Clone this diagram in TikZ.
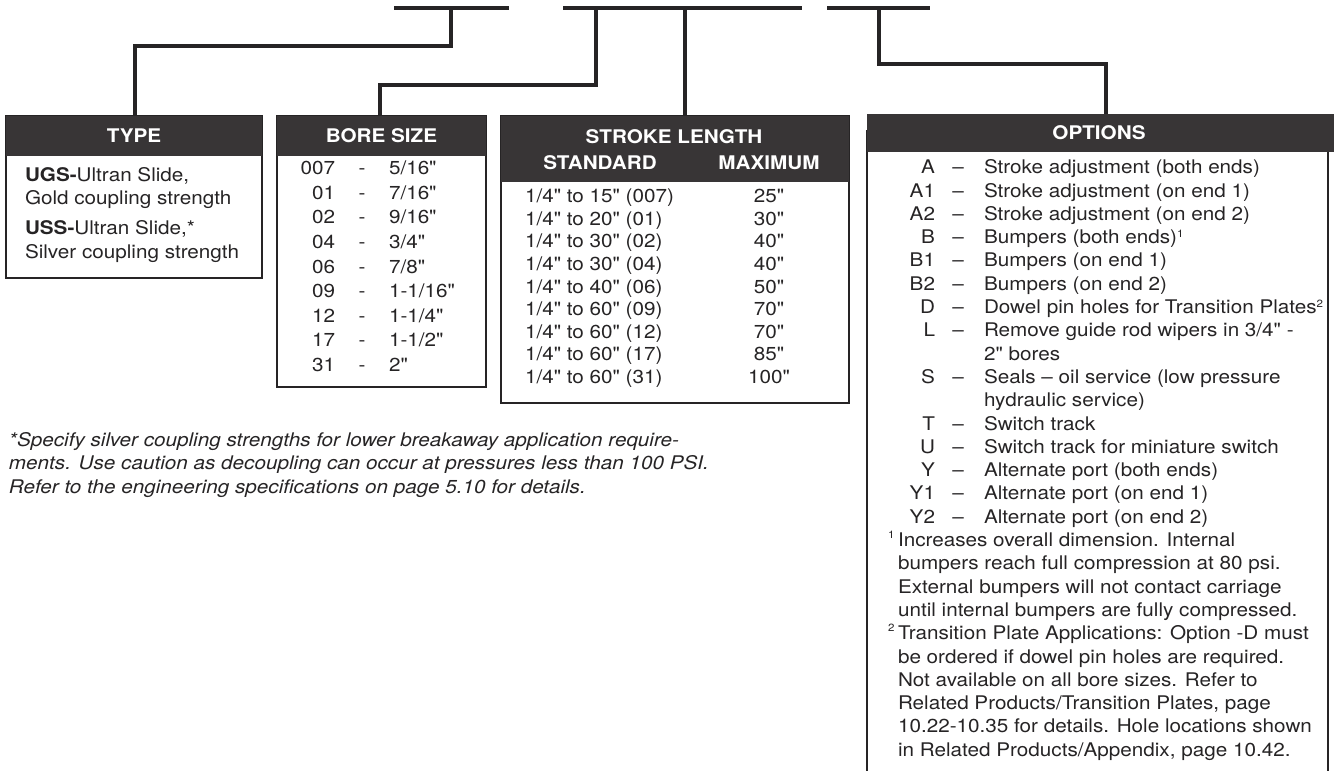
\documentclass[tikz,border=0pt]{standalone}
\usepackage{fontspec}
\setmainfont{TeX Gyre Heros}[FakeStretch=1.10, Ligatures=TeXOff]
\definecolor{ink}{RGB}{38,36,37}
\definecolor{hdrgray}{RGB}{56,53,54}
\newcommand\bodysz{\fontsize{18.8}{23.3}\selectfont}
\newcommand\fnsup[1]{\raisebox{6.5pt}{\fontsize{10.5}{11}\selectfont #1}}
\tikzset{
 txt/.style={inner sep=0pt, outer sep=0pt, text height=13.5pt, text depth=0pt, font=\bodysz, text=ink},
 hdrtxt/.style={txt, font=\bodysz\bfseries, text=white, anchor=center},
 hdrbox/.style={fill=hdrgray, draw=none, inner sep=0pt, outer sep=0pt, anchor=north west},
 frame/.style={draw=ink, line width=1.3pt},
 conn/.style={draw=ink, line width=3.2pt},
 blank/.style={draw=ink, line width=3.2pt},
 codeE/.style={txt, anchor=east},
 lft/.style={txt, anchor=west},
 ctr/.style={txt, anchor=center},
 fnmark/.style={inner sep=0pt, text=ink, font=\fontsize{10.5}{11}\selectfont, anchor=west},
}
\newcommand\borerow[4]{%
 \node[codeE] (bc#1) at (335,#2) {#3};
 \node[ctr] (bd#1) at (362,#2) {-};
 \node[lft] (bv#1) at (389,#2) {#4};}
\newcommand\strokerow[4]{%
 \node[lft] (ss#1) at (525,#2) {#3};
 \node[ctr] (sm#1) at (769,#2) {#4};}
\newcommand\optrow[4]{%
 \node[codeE] (oc#1) at (935,#2) {#3};
 \node[ctr] (od#1) at (958,#2) {–};
 \node[lft] (ov#1) at (984,#2) {#4};}
\begin{document}
\begin{tikzpicture}[x=1pt,y=-1pt]
\useasboundingbox (0,0) rectangle (1335,771);

% blanks of the part number
\coordinate (b1L) at (394,8); \coordinate (b1R) at (509,8);
\coordinate (b2L) at (563,8); \coordinate (b2R) at (802,8);
\coordinate (b3L) at (827,8); \coordinate (b3R) at (930,8);
\draw[blank] (b1L) -- (b1R);
\draw[blank] (b2L) -- (b2R);
\draw[blank] (b3L) -- (b3R);
\coordinate (t1) at (451,8);
\coordinate (t2) at (596,8);
\coordinate (t3) at (685,8);
\coordinate (t4) at (879,8);

% frames
\draw[frame] (6,116) rectangle (262,278);
\draw[frame] (277,116) rectangle (486,387);
\draw[frame] (501,116) rectangle (849,403);
\draw[frame] (867,130) -- (867,771);
\draw[frame] (1328,130) -- (1328,771);

% headers
\node[hdrbox, minimum width=256pt, minimum height=40pt] (typehdr) at (6,116) {};
\node[hdrtxt] (typettl) at (typehdr.center) {TYPE};
\node[hdrbox, minimum width=209pt, minimum height=40pt] (borehdr) at (277,116) {};
\node[hdrtxt] (borettl) at (borehdr.center) {BORE SIZE};
\node[hdrbox, minimum width=348pt, minimum height=66pt] (strokehdr) at (501,116) {};
\node[hdrtxt] (strokettl) at (674,137) {STROKE LENGTH};
\node[hdrtxt] (stdttl) at (600,163) {STANDARD};
\node[hdrtxt] (maxttl) at (769,163) {MAXIMUM};
\node[hdrbox, minimum width=467pt, minimum height=38pt] (opthdr) at (867,114) {};
\node[hdrtxt] (optttl) at (1099,133) {OPTIONS};

% connectors
\draw[conn] (t1) -- ++(0,38) -| ([xshift=1pt]typehdr.north);
\draw[conn] (t2) -- ++(0,77) -| ([xshift=-1.5pt]borehdr.north);
\draw[conn] (t3) -- (t3 |- strokehdr.north);
\draw[conn] (t4) -- ++(0,56) -| ([xshift=5.5pt]opthdr.north);

% type
\node[lft] (ty1) at (25,175) {\textbf{UGS-}Ultran Slide,};
\node[lft] (ty2) at (25,198) {Gold coupling strength};
\node[lft] (ty3) at (25,228) {\textbf{USS-}Ultran Slide,*};
\node[lft] (ty4) at (25,252) {Silver coupling strength};

% bore
\borerow{1}{168}{007}{5/16"}
\borerow{2}{192.6}{01}{7/16"}
\borerow{3}{217.2}{02}{9/16"}
\borerow{4}{241.8}{04}{3/4"}
\borerow{5}{266.4}{06}{7/8"}
\borerow{6}{291}{09}{1-1/16"}
\borerow{7}{315.6}{12}{1-1/4"}
\borerow{8}{340.2}{17}{1-1/2"}
\borerow{9}{364.8}{31}{2"}

% stroke
\strokerow{1}{196}{1/4" to 15" (007)}{25"}
\strokerow{2}{218.6}{1/4" to 20" (01)}{30"}
\strokerow{3}{241.2}{1/4" to 30" (02)}{40"}
\strokerow{4}{263.8}{1/4" to 30" (04)}{40"}
\strokerow{5}{286.4}{1/4" to 40" (06)}{50"}
\strokerow{6}{309}{1/4" to 60" (09)}{70"}
\strokerow{7}{331.6}{1/4" to 60" (12)}{70"}
\strokerow{8}{354.2}{1/4" to 60" (17)}{85"}
\strokerow{9}{376.8}{1/4" to 60" (31)}{100"}

% options
\optrow{1}{167}{A}{Stroke adjustment (both ends)}
\optrow{2}{190.3}{A1}{Stroke adjustment (on end 1)}
\optrow{3}{213.6}{A2}{Stroke adjustment (on end 2)}
\optrow{4}{236.9}{B}{Bumpers (both ends)\fnsup{1}}
\optrow{5}{260.2}{B1}{Bumpers (on end 1)}
\optrow{6}{283.5}{B2}{Bumpers (on end 2)}
\optrow{7}{306.8}{D}{Dowel pin holes for Transition Plates\fnsup{2}}
\optrow{8}{330.1}{L}{Remove guide rod wipers in 3/4" -}
\node[lft] (ov8b) at (984,353.4) {2" bores};
\optrow{9}{376.7}{S}{Seals – oil service (low pressure}
\node[lft] (ov9b) at (984,400) {hydraulic service)};
\optrow{10}{423.3}{T}{Switch track}
\optrow{11}{446.6}{U}{Switch track for miniature switch}
\optrow{12}{469.9}{Y}{Alternate port (both ends)}
\optrow{13}{493.2}{Y1}{Alternate port (on end 1)}
\optrow{14}{516.5}{Y2}{Alternate port (on end 2)}

% option footnotes
\node[fnmark] (fm1) at (888,535) {1};
\node[lft] (f1a) at (898,539.8) {Increases overall dimension. Internal};
\node[lft] (f1b) at (898,563.1) {bumpers reach full compression at 80 psi.};
\node[lft] (f1c) at (898,586.4) {External bumpers will not contact carriage};
\node[lft] (f1d) at (898,609.7) {until internal bumpers are fully compressed.};
\node[fnmark] (fm2) at (888,628) {2};
\node[lft] (f2a) at (898,633) {Transition Plate Applications: Option -D must};
\node[lft] (f2b) at (898,656.3) {be ordered if dowel pin holes are required.};
\node[lft] (f2c) at (898,679.6) {Not available on all bore sizes. Refer to};
\node[lft] (f2d) at (898,702.9) {Related Products/Transition Plates, page};
\node[lft] (f2e) at (898,726.2) {10.22-10.35 for details. Hole locations shown};
\node[lft] (f2f) at (898,749.5) {in Related Products/Appendix, page 10.42.};

% note
\node[lft, font=\bodysz\itshape] (n1) at (9,440) {*Specify silver coupling strengths for lower breakaway application require-};
\node[lft, font=\bodysz\itshape] (n2) at (9,463) {ments. Use caution as decoupling can occur at pressures less than 100 PSI.};
\node[lft, font=\bodysz\itshape] (n3) at (9,487) {Refer to the engineering specifications on page 5.10 for details.};
\end{tikzpicture}
\end{document}
